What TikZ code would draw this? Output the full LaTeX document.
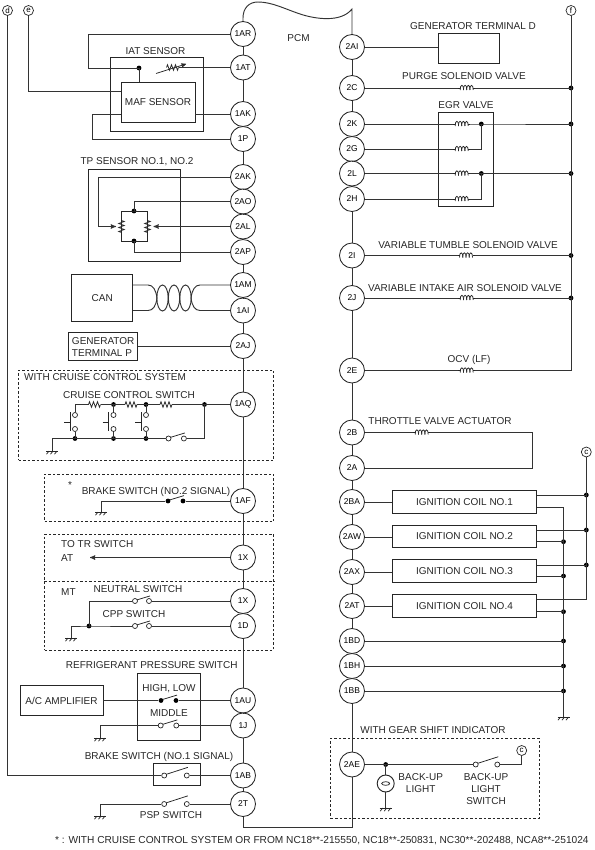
\documentclass[tikz,border=0pt]{standalone}
\usepackage{fontspec}
\setmainfont{Liberation Sans}
\usetikzlibrary{arrows}
\tikzset{
>=stealth', % solid arrow heads
wire/.style={line width=0.95pt, black!80},
thinwire/.style={line width=0.75pt, black!85},
termpin/.style={circle, draw=black!85, line width=0.85pt, fill=white, minimum size=25pt, inner sep=0pt, font=\fontsize{8.5}{10}\selectfont},
termtag/.style={circle, draw=black!85, line width=0.7pt, fill=white, minimum size=10pt, inner sep=0pt, font=\fontsize{8}{8}\selectfont},
lbl/.style={inner sep=0pt, text=black!85, font=\fontsize{10}{12}\selectfont, text height=7pt, text depth=0pt},
lblm/.style={inner sep=0pt, text=black!85, font=\fontsize{10}{12}\selectfont, align=center},
box/.style={draw=black!85, line width=0.95pt, inner sep=0pt, text=black!85, font=\fontsize{10}{12}\selectfont},
dashbox/.style={draw=black!85, line width=0.8pt, dashed, dash pattern=on 2.5pt off 2pt, inner sep=0pt},
dot/.style={circle, fill=black, minimum size=4.8pt, inner sep=0pt},
contact/.style={circle, draw=black!85, line width=0.7pt, fill=white, minimum size=5pt, inner sep=0pt},
pics/coil/.style={code={
    \coordinate (-in) at (-8.5,0);
    \coordinate (-out) at (8.5,0);
    \draw[thinwire] (-8.5,0) -- (-6.5,0);
    \draw[thinwire] (6.5,0) -- (8.5,0);
    \foreach \k in {-6.5,-3.3,-0.1,3.1}
        \draw[thinwire] (\k,2) .. controls (\k-0.3,-4.2) and (\k+3.7,-4.2) .. (\k+3.4,2);
}},
pics/zigzag/.style={code={
    \coordinate (-in) at (-6,0);
    \coordinate (-out) at (6,0);
    \draw[thinwire] (-6,0) -- (-5,-2.8) -- (-3,2.8) -- (-1,-2.8) -- (1,2.8) -- (3,-2.8) -- (5,2.8) -- (6,0);
}},
pics/ground/.style={code={
    \draw[thinwire] (-6,0) -- (6,0);
    \foreach \k in {-3,1,5}
        \draw[thinwire] (\k,0) -- (\k-2.5,3.2);
}},
pics/switch/.style 2 args={code={
    \draw[thinwire] (-#1+1.5,-1) -- (#1+1,-0.72*#1);
    \node[#2] (-a) at (-#1,0) {};
    \node[#2] (-b) at (#1,0) {};
}},
}

\begin{document}
\begin{tikzpicture}[x=1pt, y=-1pt]
\useasboundingbox (0,0) rectangle (594,850);

% dashed groups
\node[dashbox, minimum width=255pt, minimum height=90pt] (cruisegroup) at (146,415) {};
\node[dashbox, minimum width=229pt, minimum height=47.7pt] (brake2group) at (159,497.8) {};
\node[dashbox, minimum width=229pt, minimum height=115.5pt] (trgroup) at (159,592.2) {};
\node[dashbox, minimum width=208.3pt, minimum height=80pt] (geargroup) at (434.8,778.3) {};
\draw[thinwire, dashed, dash pattern=on 2.5pt off 2pt] (trgroup.west |- 0,581) -- (trgroup.east |- 0,581);

% terminals of the PCM
\foreach \pinname/\pintext/\piny in {1AR/1AR/34, 1AT/1AT/67.5, 1AK/1AK/114, 1P/1P/139, 2AK/2AK/177, 2AO/2AO/201.5, 2AL/2AL/226.5, 2AP/2AP/252, 1AM/1AM/285, 1AI/1AI/310.5, 2AJ/2AJ/346, 1AQ/1AQ/404.5, 1AF/1AF/501, 1Xa/1X/557.5, 1Xb/1X/601, 1D/1D/626, 1AU/1AU/700.5, 1J/1J/725.5, 1AB/1AB/775.5, 2T/2T/804}
    \node[termpin] (\pinname) at (243,\piny) {\pintext};
\foreach \pinname/\piny in {2AI/47, 2C/88, 2K/124, 2G/149, 2L/173.5, 2H/199, 2I/255.5, 2J/298, 2E/370.5, 2B/432.5, 2A/468, 2BA/502, 2AW/537, 2AX/572, 2AT/606, 1BD/641, 1BH/666, 1BB/691, 2AE/764.5}
    \node[termpin] (\pinname) at (352,\piny) {\pinname};

\draw[wire] (1AR) -- (1AT) -- (1AK) -- (1P) -- (2AK) -- (2AO) -- (2AL) -- (2AP) -- (1AM) -- (1AI) -- (2AJ) -- (1AQ) -- (1AF) -- (1Xa) -- (1Xb) -- (1D) -- (1AU) -- (1J) -- (1AB) -- (2T);
\draw[wire] (2AI) -- (2C) -- (2K) -- (2G) -- (2L) -- (2H) -- (2I) -- (2J) -- (2E) -- (2B) -- (2A) -- (2BA) -- (2AW) -- (2AX) -- (2AT) -- (1BD) -- (1BH) -- (1BB) -- (2AE);
\coordinate (busbottom) at (300,827);
\draw[wire] (2T.south) -- (2T.south |- busbottom) -- (2AE.south |- busbottom) -- (2AE.south);
\draw[wire] (1AR.north) -- (243,18) .. controls (243,8) and (249,2) .. (258,2) .. controls (272,2) and (285,9) .. (300,14) .. controls (315,19) and (341,23) .. (352,9) -- (2AI.north);
\node[lbl] (pcm) at (298.5,38) {PCM};

% circled tags
\node[termtag] (tagd) at (7.5,10.5) {d};
\node[termtag] (tage) at (28.5,10.5) {e};
\node[termtag] (tagf) at (571,10.5) {f};
\node[termtag] (tagc) at (586.3,452) {c};
\node[termtag] (tagcb) at (521.7,750.5) {c};

% IAT and MAF sensors
\node[lbl] (iatlabel) at (155.5,51) {IAT SENSOR};
\node[box, minimum width=93pt, minimum height=74pt] (iat) at (156.5,94) {};
\node[box, fill=white, minimum width=74pt, minimum height=40pt] (maf) at (158,102) {MAF SENSOR};
\pic (riat) at (172.5,67.5) {zigzag};
\draw[thinwire, ->] (156,73.5) -- (186,64);
\node[dot] (iatdot) at (139,68) {};
\coordinate (iatcorner) at (88,68);
\draw[wire] (1AR) -- (1AR -| iatcorner) -- (iatcorner) -- (iatdot.center);
\draw[wire] (riat-out) -- (1AT);
\draw[wire] (iatdot.center) -- (iatdot |- maf.north);
\draw[wire] (1AK) -- (1AK -| maf.east);
\draw[wire] (tage) -- (tage |- 0,91) -- (maf.west |- 0,91);
\coordinate (pcorner) at (92,114.5);
\draw[wire] (1P) -- (1P -| pcorner) -- (pcorner) -- (pcorner -| maf.west);

% TP sensor
\node[lbl] (tplabel) at (137,161) {TP SENSOR NO.1, NO.2};
\node[box, minimum width=92pt, minimum height=91.5pt] (tp) at (134,215.7) {};
\node[dot] (tptop) at (134,211) {};
\node[dot] (tpbot) at (134,241) {};
\pic[rotate=90] (rtpa) at (121.5,226.5) {zigzag};
\pic[rotate=90] (rtpb) at (147.5,226.5) {zigzag};
\draw[thinwire] (tptop.center) -| (rtpa-in);
\draw[thinwire] (tptop.center) -| (rtpb-in);
\draw[thinwire] (tpbot.center) -| (rtpa-out);
\draw[thinwire] (tpbot.center) -| (rtpb-out);
\draw[wire] (2AO) -- (2AO -| tptop) -- (tptop.center);
\draw[wire] (2AP) -- (2AP -| tpbot) -- (tpbot.center);
\coordinate (tpcorner) at (98.5,177);
\draw[wire, ->] (2AK) -- (tpcorner) -- (tpcorner |- 2AL) -- (116,226.5);
\draw[wire, ->] (2AL) -- (153.5,226.5);

% CAN with twisted pair
\node[box, minimum width=60.5pt, minimum height=47pt] (can) at (102.2,298) {CAN};
\coordinate (twistl) at (157,298);
\coordinate (twistr) at (191,298);
\draw[wire] (can.east |- 1AM) -- (148,285) .. controls (153,285) and (156,290) .. (twistl);
\draw[wire] (can.east |- 1AI) -- (148,310.5) .. controls (153,310.5) and (156,306) .. (twistl);
\draw[wire] (1AM) -- (200,285) .. controls (195,285) and (192,290) .. (twistr);
\draw[wire] (1AI) -- (200,310.5) .. controls (195,310.5) and (192,306) .. (twistr);
\foreach \k in {162.5,174,185.5}
    \draw[wire] (\k,298) ellipse (5.7 and 13);

% generator terminal P
\node[box, minimum width=68.5pt, minimum height=28.5pt, align=left] (genp) at (103.2,346.7) {GENERATOR\\TERMINAL P};
\draw[wire] (2AJ) -- (2AJ -| genp.east);

% cruise control
\node[lbl, anchor=west] (cruiselabel) at (24,377) {WITH CRUISE CONTROL SYSTEM};
\node[lbl] (cruisesw) at (129,395) {CRUISE CONTROL SWITCH};
\node[dot] (chainend) at (204.5,404.5) {};
\pic (res3) at (166,404.5) {zigzag};
\pic (res2) at (131,404.5) {zigzag};
\pic (res1) at (94.5,404.5) {zigzag};
\foreach \btn/\bx in {a/75,b/113.5,c/146} {
    \node[contact] (btntop\btn) at (\bx,415) {};
    \node[contact] (btnbot\btn) at (\bx,429) {};
    \node[dot] (busdot\btn) at (\bx,438.5) {};
    \draw[wire] (btnbot\btn) -- (busdot\btn.center);
    \draw[thinwire] (\bx-5,412) -- (\bx-5,431);
    \draw[thinwire] (\bx-11,422) -- (\bx-5,422);
}
\coordinate (chaina) at (75,404.5);
\node[dot] (chainb) at (113.5,404.5) {};
\node[dot] (chainc) at (146,404.5) {};
\draw[wire] (1AQ) -- (chainend.center) -- (res3-out);
\draw[wire] (res3-in) -- (chainc.center) -- (res2-out);
\draw[wire] (res2-in) -- (chainb.center) -- (res1-out);
\draw[wire] (res1-in) -- (chaina) -- (btntopa);
\draw[wire] (chainb.center) -- (btntopb);
\draw[wire] (chainc.center) -- (btntopc);
\pic (swcruise) at (176.2,438.5) {switch={7.7}{contact}};
\pic (gcruise) at (52,451) {ground};
\coordinate (gcruisetop) at (52,438.5);
\draw[wire] (52,451) -- (gcruisetop) -- (swcruise-a);
\draw[wire] (swcruise-b) -- (swcruise-b -| chainend) -- (chainend.center);

% brake switch no.2
\node[lbl] (star) at (70,484.5) {*};
\node[lbl] (brake2label) at (156,490.7) {BRAKE SWITCH (NO.2 SIGNAL)};
\pic (swbrake2) at (175.5,501) {switch={7.5}{dot}};
\pic (gbrake2) at (101,512) {ground};
\coordinate (brake2corner) at (101,501);
\draw[wire] (1AF) -- (swbrake2-b);
\draw[wire] (swbrake2-a) -- (brake2corner) -- (101,512);

% TR switch group
\node[lbl, anchor=west] (trlabel) at (61,544) {TO TR SWITCH};
\node[lbl, anchor=west] (atlabel) at (61,558) {AT};
\node[lbl, anchor=west] (mtlabel) at (61,592.3) {MT};
\coordinate (attip) at (90,557.5);
\draw[wire, ->] (1Xa) -- (attip);
\node[lbl] (neutrallabel) at (138,589) {NEUTRAL SWITCH};
\node[lbl] (cpplabel) at (134,613.7) {CPP SWITCH};
\pic (swneutral) at (142,601) {switch={7}{contact}};
\pic (swcpp) at (142,626) {switch={7}{contact}};
\node[dot] (mtdot) at (89,626) {};
\coordinate (mtcorner) at (89,601);
\pic (gmt) at (71,638) {ground};
\draw[wire] (1Xb) -- (swneutral-b);
\draw[wire] (swneutral-a) -- (mtcorner) -- (mtdot.center);
\draw[wire] (1D) -- (swcpp-b);
\draw[wire] (swcpp-a) -- (mtdot.center) -- (71,626) -- (71,638);

% refrigerant pressure switch
\node[lbl] (refrlabel) at (151.7,665) {REFRIGERANT PRESSURE SWITCH};
\node[box, minimum width=63pt, minimum height=66.7pt] (refrbox) at (168.5,707.3) {};
\node[lbl] (highlow) at (169,688) {HIGH, LOW};
\node[lbl] (middle) at (169,713) {MIDDLE};
\node[box, minimum width=83pt, minimum height=30.3pt] (acamp) at (61.5,700.8) {A/C AMPLIFIER};
\pic (swhigh) at (168.5,700.5) {switch={7.5}{dot}};
\pic (swmid) at (168.5,725.5) {switch={7.8}{contact}};
\pic (gmid) at (100,738) {ground};
\coordinate (midcorner) at (100,725.5);
\draw[wire] (acamp.east |- 1AU) -- (swhigh-a);
\draw[wire] (swhigh-b) -- (1AU);
\draw[wire] (1J) -- (swmid-b);
\draw[wire] (swmid-a) -- (midcorner) -- (100,738);

% brake switch no.1
\node[lbl] (brake1label) at (159,755.7) {BRAKE SWITCH (NO.1 SIGNAL)};
\node[box, minimum width=47pt, minimum height=22pt] (brake1box) at (176.5,774) {};
\pic (swbrake1) at (175.5,775.5) {switch={11.3}{contact}};
\coordinate (dcorner) at (7.5,775.5);
\draw[wire] (tagd) -- (dcorner) -- (swbrake1-a);
\draw[wire] (swbrake1-b) -- (1AB);

% PSP switch
\node[lbl] (psplabel) at (171,815) {PSP SWITCH};
\pic (swpsp) at (175.5,804) {switch={11.3}{contact}};
\pic (gpsp) at (100,816) {ground};
\coordinate (pspcorner) at (100,804);
\draw[wire] (2T) -- (swpsp-b);
\draw[wire] (swpsp-a) -- (pspcorner) -- (100,816);

% footnote
\node[lbl, anchor=west, font=\fontsize{10.15}{12}\selectfont] (footnote) at (55,840) {* : WITH CRUISE CONTROL SYSTEM OR FROM NC18**-215550, NC18**-250831, NC30**-202488, NCA8**-251024};

% generator terminal D
\node[lbl] (genlabel) at (473,26) {GENERATOR TERMINAL D};
\node[box, minimum width=61pt, minimum height=30pt] (gend) at (468.5,48) {};
\draw[wire] (2AI) -- (2AI -| gend.west);

% f line and solenoids
\node[dot] (fa) at (571,88) {};
\node[dot] (fb) at (571,124) {};
\node[dot] (fc) at (571,173.5) {};
\node[dot] (fd) at (571,255.5) {};
\node[dot] (fe) at (571,298) {};
\coordinate (fend) at (571,370.5);
\pic (cpurge) at (466.7,88) {coil};
\node[lbl] (purgelabel) at (464,76) {PURGE SOLENOID VALVE};
\draw[wire] (2C) -- (cpurge-in);
\draw[wire] (cpurge-out) -- (fa.center);

% EGR valve
\node[lbl] (egrlabel) at (466,105) {EGR VALVE};
\node[box, minimum width=55pt, minimum height=94pt] (egr) at (465.5,159) {};
\node[dot] (egrtop) at (481.3,124) {};
\node[dot] (egrbot) at (481.3,173.5) {};
\foreach \coilname/\coily/\pinname in {ca/124/2K, cb/149/2G, cc/173.5/2L, cd/199/2H} {
    \pic (\coilname) at (461.7,\coily) {coil};
    \draw[wire] (\pinname) -- (\coilname-in);
}
\draw[wire] (ca-out) -- (egrtop.center) -- (fb.center);
\draw[wire] (cb-out) -| (egrtop.center);
\draw[wire] (cc-out) -- (egrbot.center) -- (fc.center);
\draw[wire] (cd-out) -| (egrbot.center);

% variable valves and OCV
\node[lbl] (tumblelabel) at (468,245) {VARIABLE TUMBLE SOLENOID VALVE};
\pic (ctumble) at (466,255.5) {coil};
\draw[wire] (2I) -- (ctumble-in);
\draw[wire] (ctumble-out) -- (fd.center);
\node[lbl] (intakelabel) at (465,288) {VARIABLE INTAKE AIR SOLENOID VALVE};
\pic (cintake) at (466.7,298) {coil};
\draw[wire] (2J) -- (cintake-in);
\draw[wire] (cintake-out) -- (fe.center);
\node[lbl] (ocvlabel) at (469,358.7) {OCV (LF)};
\pic (cocv) at (466.7,370.5) {coil};
\draw[wire] (2E) -- (cocv-in);
\draw[wire] (tagf) -- (fend) -- (cocv-out);

% throttle valve actuator
\node[lbl] (throttlelabel) at (440,421) {THROTTLE VALVE ACTUATOR};
\pic (cthrottle) at (421.7,432.5) {coil};
\coordinate (thra) at (532.7,432.5);
\coordinate (thrb) at (532.7,468);
\draw[wire] (2B) -- (cthrottle-in);
\draw[wire] (cthrottle-out) -- (thra) -- (thrb) -- (2A);

% ignition coils
\foreach \ign/\igny/\ignpin/\ignno in {ign1/502/2BA/1, ign2/536.5/2AW/2, ign3/571/2AX/3, ign4/606/2AT/4} {
    \node[box, minimum width=144.4pt, minimum height=22.5pt] (\ign) at (464.5,\igny) {IGNITION COIL NO.\ignno};
    \draw[wire] (\ignpin) -- (\ignpin -| \ign.west);
}
\node[dot] (ca1) at (586.3,495) {};
\node[dot] (ca2) at (586.3,530) {};
\node[dot] (ca3) at (586.3,565) {};
\coordinate (ca4) at (586.3,599);
\draw[wire] (tagc) -- (ca4) -- (ca4 -| ign4.east);
\draw[wire] (ca1.center) -- (ca1 -| ign1.east);
\draw[wire] (ca2.center) -- (ca2 -| ign2.east);
\draw[wire] (ca3.center) -- (ca3 -| ign3.east);
\coordinate (gb1) at (563.5,507);
\node[dot] (gb2) at (563.5,541.7) {};
\node[dot] (gb3) at (563.5,576) {};
\node[dot] (gb4) at (563.5,611.7) {};
\node[dot] (gb5) at (563.5,641) {};
\node[dot] (gb6) at (563.5,666) {};
\node[dot] (gb7) at (563.5,691) {};
\pic (gign) at (563.5,717) {ground};
\draw[wire] (gb1 -| ign1.east) -- (gb1) -- (563.5,717);
\draw[wire] (gb2.center) -- (gb2 -| ign2.east);
\draw[wire] (gb3.center) -- (gb3 -| ign3.east);
\draw[wire] (gb4.center) -- (gb4 -| ign4.east);
\draw[wire] (1BD) -- (gb5.center);
\draw[wire] (1BH) -- (gb6.center);
\draw[wire] (1BB) -- (gb7.center);

% gear shift indicator
\node[lbl] (gearlabel) at (433,730.3) {WITH GEAR SHIFT INDICATOR};
\node[dot] (lampdot) at (385.7,764.5) {};
\node[circle, draw=black!85, line width=0.95pt, minimum size=17pt, inner sep=0pt] (lamp) at (385.7,783.5) {};
\draw[thinwire] (lamp.center) ellipse (4 and 1.8);
\pic (swback) at (486.5,764.5) {switch={10.8}{contact}};
\pic (glamp) at (385.7,808) {ground};
\node[lblm] (lamplabel) at (420.7,783) {BACK-UP\\LIGHT};
\node[lblm] (backswlabel) at (486,789) {BACK-UP\\LIGHT\\SWITCH};
\coordinate (tagcorner) at (521.7,764.5);
\draw[wire] (2AE) -- (swback-a);
\draw[wire] (swback-b) -- (tagcorner) -- (tagcb);
\draw[wire] (lampdot.center) -- (lamp);
\draw[wire] (lamp) -- (385.7,808);
\end{tikzpicture}
\end{document}
